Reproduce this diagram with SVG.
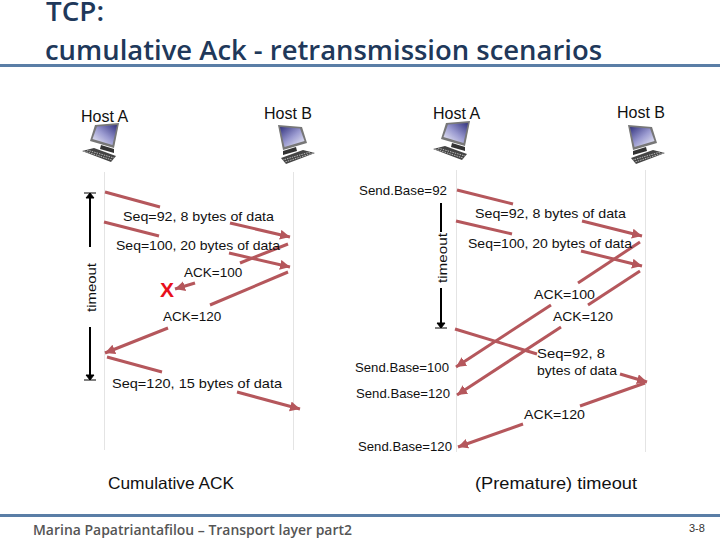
<svg xmlns="http://www.w3.org/2000/svg" width="720" height="540" viewBox="0 0 720 540">
<style>
text{font-family:"Liberation Sans",Arial,sans-serif;fill:#111}
.l{font-size:13.5px}
.h{font-size:16px}
.c{font-size:16.5px}
.t{font-family:"Open Sans","Noto Sans",sans-serif;font-size:27px;font-weight:600;fill:#20385a}
.m{stroke:#b5575c;stroke-width:3;fill:none}
.a{stroke:#b5575c;stroke-width:3;fill:none;marker-end:url(#ah)}
.life{stroke:#e4e4e4;stroke-width:1;fill:none}
.tm{stroke:#000;stroke-width:2;fill:none}
.rule{stroke:#5a7ea6;stroke-width:3}
</style>
<defs>
<marker id="ah" markerUnits="userSpaceOnUse" markerWidth="12" markerHeight="12" refX="10" refY="5" orient="auto"><path d="M0 0L10 5L0 10Z" fill="#b5575c"/></marker>
<linearGradient id="scr" x1="1" y1="0" x2="0" y2="1"><stop offset="0" stop-color="#33337f"/><stop offset="0.5" stop-color="#9a9ad0"/><stop offset="1" stop-color="#f4f4fa"/></linearGradient>
<g id="pc">
<path d="M5 0L29 -2L24 23L0 16Z" fill="#777"/>
<path d="M7 1.500L27 0L22.500 20L2.500 14Z" fill="url(#scr)"/>
<path d="M11 20L24 24L24 28L10 24Z" fill="#333"/>
<path d="M-8 26L4 23L26 31L21 37Z" fill="#444"/>
<path d="M-6 26L22 35M-3 25L24 33" stroke="#bbb" stroke-width="1" stroke-dasharray="1.500 1"/>
</g>
</defs>
<rect width="720" height="540" fill="#fff"/>
<g id="header">
<text class="t" x="46" y="21" textLength="58" lengthAdjust="spacingAndGlyphs">TCP:</text>
<text class="t" x="45" y="60" textLength="557" lengthAdjust="spacingAndGlyphs">cumulative Ack - retransmission scenarios</text>
<line class="rule" x1="0" y1="65.500" x2="720" y2="65.500"/>
</g>
<g id="lifelines">
<line class="life" x1="104.500" y1="172" x2="104.500" y2="450"/>
<line class="life" x1="293.500" y1="172" x2="293.500" y2="450"/>
<line class="life" x1="456.500" y1="170" x2="456.500" y2="452"/>
<line class="life" x1="645.500" y1="170" x2="645.500" y2="452"/>
</g>
<g id="host-a-left"><use href="#pc" transform="translate(90,125)"/><text class="h" x="81" y="122">Host A</text></g>
<g id="host-b-left"><use href="#pc" transform="matrix(-1 0 0 1 307 127)"/><text class="h" x="264" y="119">Host B</text></g>
<g id="host-a-right"><use href="#pc" transform="translate(441,123)"/><text class="h" x="433" y="119">Host A</text></g>
<g id="host-b-right"><use href="#pc" transform="matrix(-1 0 0 1 657 127)"/><text class="h" x="617" y="118">Host B</text></g>
<g id="connectors">
<path class="m" d="M105 192L160 207"/>
<path class="a" d="M230 223L290 237"/>
<path class="m" d="M104 222L159 236"/>
<path class="a" d="M229 253L290 267"/>
<path class="m" d="M288 244L240 263"/>
<path class="a" d="M195 283L175 289"/>
<path class="m" d="M288 272L210 305"/>
<path class="a" d="M168 328L105 353"/>
<path class="m" d="M107 357L162 372"/>
<path class="a" d="M237 392L300 409"/>
<path class="m" d="M457 190L513 204"/>
<path class="a" d="M582 221L642 236"/>
<path class="m" d="M456 221L512 234"/>
<path class="a" d="M581 251L642 266"/>
<path class="m" d="M640 242L578 283"/>
<path class="a" d="M551 305L456 367"/>
<path class="m" d="M640 271L588 305"/>
<path class="a" d="M561 327L457 395"/>
<path class="m" d="M455 329L537 354"/>
<path class="a" d="M620 374L647 382"/>
<path class="m" d="M645 383L580 406"/>
<path class="a" d="M523 424L458 447"/>
</g>
<g id="timers">
<path class="tm" d="M90 193V247M90 327V380"/>
<path d="M84 193H96M90 193L86 198H94Z M84 380H96M90 380L86 375H94Z" stroke="#000" fill="#000"/>
<text class="l" transform="translate(96,312) rotate(-90)" textLength="49" lengthAdjust="spacingAndGlyphs">timeout</text>
<path class="tm" d="M441 203V232M441 288V326"/>
<path d="M435 328H447M441 328L437 323H445Z" stroke="#000" fill="#000"/>
<text class="l" transform="translate(447,283) rotate(-90)" textLength="50" lengthAdjust="spacingAndGlyphs">timeout</text>
</g>
<g id="loss"><text x="160" y="297" font-size="21" font-weight="700" style="fill:#e8101c">X</text></g>
<g id="labels">
<text class="l" x="123" y="221" textLength="151" lengthAdjust="spacingAndGlyphs">Seq=92, 8 bytes of data</text>
<text class="l" x="116" y="250" textLength="164" lengthAdjust="spacingAndGlyphs">Seq=100, 20 bytes of data</text>
<text class="l" x="184" y="277">ACK=100</text>
<text class="l" x="163" y="321">ACK=120</text>
<text class="l" x="112" y="388" textLength="170" lengthAdjust="spacingAndGlyphs">Seq=120,  15 bytes of data</text>
<text class="l" x="359" y="195" textLength="88" lengthAdjust="spacingAndGlyphs">Send.Base=92</text>
<text class="l" x="475" y="218" textLength="151" lengthAdjust="spacingAndGlyphs">Seq=92, 8 bytes of data</text>
<text class="l" x="468" y="248" textLength="164" lengthAdjust="spacingAndGlyphs">Seq=100, 20 bytes of data</text>
<text class="l" x="534" y="299" textLength="61" lengthAdjust="spacingAndGlyphs">ACK=100</text>
<text class="l" x="553" y="321" textLength="60" lengthAdjust="spacingAndGlyphs">ACK=120</text>
<text class="l" x="355" y="372" textLength="94" lengthAdjust="spacingAndGlyphs">Send.Base=100</text>
<text class="l" x="356" y="398" textLength="94" lengthAdjust="spacingAndGlyphs">Send.Base=120</text>
<text class="l" x="537" y="358" textLength="68" lengthAdjust="spacingAndGlyphs">Seq=92,  8</text>
<text class="l" x="537" y="375" textLength="80" lengthAdjust="spacingAndGlyphs">bytes of data</text>
<text class="l" x="524" y="419" textLength="61" lengthAdjust="spacingAndGlyphs">ACK=120</text>
<text class="l" x="358" y="451" textLength="94" lengthAdjust="spacingAndGlyphs">Send.Base=120</text>
<text class="c" x="108" y="489" textLength="126" lengthAdjust="spacingAndGlyphs">Cumulative ACK</text>
<text class="c" x="475" y="489" textLength="162" lengthAdjust="spacingAndGlyphs">(Premature) timeout</text>
</g>
<g id="footer">
<line class="rule" x1="0" y1="515.500" x2="720" y2="515.500"/>
<text x="33" y="535" font-size="14" font-weight="600" style="font-family:'Open Sans',sans-serif;fill:#555" textLength="319" lengthAdjust="spacingAndGlyphs">Marina Papatriantafilou –  Transport layer part2</text>
<text x="689" y="532" font-size="11" style="fill:#333">3-8</text>
</g>
</svg>
